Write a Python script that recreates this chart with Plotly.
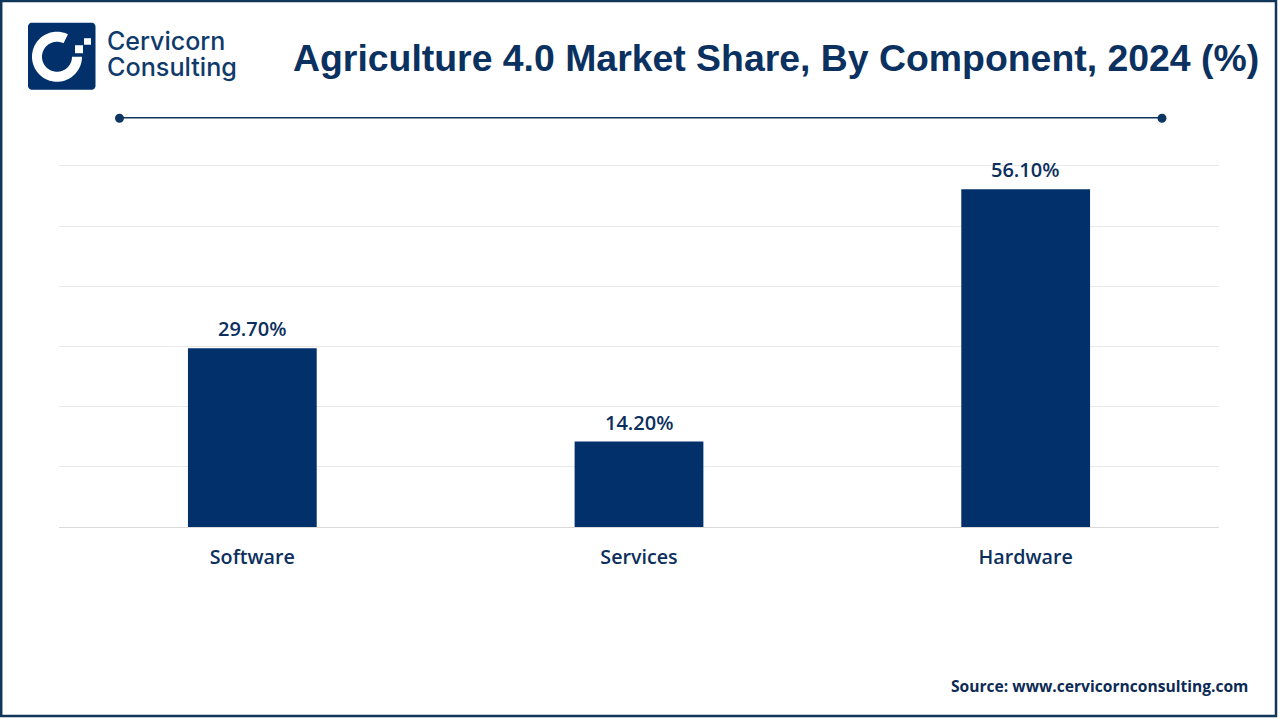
import numpy as np
import plotly.graph_objects as go

# data
categories = ["Software", "Services", "Hardware"]
shares = [29.7, 14.2, 56.1]
grid_ticks = [0, 10, 20, 30, 40, 50, 60]

NAVY = "#01306B"
TEXT = "#0C2F5E"
W, H = 1280, 720
# top runs a little past the 60 line, plotly drops a grid line sitting right on the edge
LEFT, RIGHT, TOP, BOTTOM = 59, 1219, 164.2, 527
Y_MAX = 60.3


# paper coordinates run over the plot area, not the page
def px(x):
    return (x - LEFT) / (RIGHT - LEFT)


def py(y):
    return (BOTTOM - y) / (BOTTOM - TOP)


def poly(points):
    return "M" + " L".join(f"{px(x):.5f},{py(y):.5f}" for x, y in points) + " Z"


def ring_c(cx, cy, r_out, r_in, start, end):
    # C of the logo, angles in degrees counter clockwise from east
    a = np.radians(np.linspace(start, end, 70))
    outer = [(cx + r_out * np.cos(t), cy - r_out * np.sin(t)) for t in a]
    inner = [(cx + r_in * np.cos(t), cy - r_in * np.sin(t)) for t in a[::-1]]
    return poly(outer + inner)


def rounded(x0, y0, x1, y1, r):
    a = np.radians(np.linspace(0, 90, 8))
    pts = []
    for (cx, cy, off) in [(x1 - r, y0 + r, 0), (x0 + r, y0 + r, 90), (x0 + r, y1 - r, 180), (x1 - r, y1 - r, 270)]:
        pts += [(cx + r * np.cos(t + np.radians(off)), cy - r * np.sin(t + np.radians(off))) for t in a]
    return poly(pts)


fig = go.Figure()

fig.add_trace(go.Bar(
    x=categories,
    y=shares,
    width=0.333,
    marker=dict(color=NAVY, line=dict(width=0)),
))

shapes = [
    # outer frame
    dict(type="rect", xref="paper", yref="paper", x0=px(1.2), x1=px(1276), y0=py(1.2), y1=py(716),
         line=dict(color="#10365A", width=2.5), fillcolor="rgba(0,0,0,0)", layer="above"),
    # rule under the title
    dict(type="line", xref="paper", yref="paper", x0=px(119), x1=px(1162), y0=py(118), y1=py(118),
         line=dict(color="#0F3563", width=1.4)),
    dict(type="circle", xref="paper", yref="paper", x0=px(115), x1=px(124), y0=py(114), y1=py(123),
         fillcolor="#0F3563", line=dict(width=0)),
    dict(type="circle", xref="paper", yref="paper", x0=px(1157.5), x1=px(1166.5), y0=py(114), y1=py(123),
         fillcolor="#0F3563", line=dict(width=0)),
    # logo
    dict(type="path", xref="paper", yref="paper", path=rounded(28, 23, 95.5, 90, 4),
         fillcolor=NAVY, line=dict(width=0)),
    dict(type="path", xref="paper", yref="paper", path=ring_c(57, 57, 25, 15, 64, 360),
         fillcolor="white", line=dict(width=0)),
    dict(type="rect", xref="paper", yref="paper", x0=px(75), x1=px(83), y0=py(45.5), y1=py(53.5),
         fillcolor="white", line=dict(width=0)),
    dict(type="rect", xref="paper", yref="paper", x0=px(84), x1=px(91), y0=py(38.5), y1=py(45),
         fillcolor="white", line=dict(width=0)),
]

annotations = [
    dict(text="<b>Agriculture 4.0 Market Share, By Component, 2024 (%)</b>", x=px(291), y=py(58),
         xanchor="left", yanchor="middle", font=dict(family="Liberation Sans", size=37.4, color="#0B3160")),
    dict(text="Cervicorn", x=px(104.5), y=py(41.5), xanchor="left", yanchor="middle",
         font=dict(family="Inter", size=25, color="#0F3A6B", weight=500)),
    dict(text="Consulting", x=px(104.5), y=py(67), xanchor="left", yanchor="middle",
         font=dict(family="Inter", size=25.2, color="#0F3A6B", weight=500)),
    dict(text="<b>Source: www.cervicornconsulting.com</b>", x=px(1250), y=py(686),
         xanchor="right", yanchor="middle", font=dict(family="Open Sans", size=15.6, color="#0C2A55")),
]
for a in annotations:
    a.update(xref="paper", yref="paper", showarrow=False)

# value labels sit on the bars
for cat, val in zip(categories, shares):
    annotations.append(dict(
        x=cat, y=val, xref="x", yref="y", text=f"{val:.2f}%", showarrow=False,
        yanchor="bottom", yshift=4,
        font=dict(family="Open Sans", size=20, color=TEXT, weight=600),
    ))

fig.update_layout(
    width=W,
    height=H,
    margin=dict(l=LEFT, r=W - RIGHT, t=TOP, b=H - BOTTOM, autoexpand=False),
    paper_bgcolor="white",
    plot_bgcolor="white",
    showlegend=False,
    shapes=shapes,
    annotations=annotations,
    xaxis=dict(
        type="category",
        showgrid=False,
        showline=False,
        ticks="",
        ticklabelstandoff=16,
        tickfont=dict(family="Open Sans", size=19.7, color=TEXT, weight=600),
    ),
    yaxis=dict(
        range=[0, Y_MAX],
        tickvals=grid_ticks,
        showticklabels=False,
        gridcolor="#E9E9E9",
        gridwidth=1,
        zeroline=True,
        zerolinecolor="#D9D9D9",
        zerolinewidth=1,
        showline=False,
        ticks="",
    ),
)

fig.write_html("out.html", config=dict(displayModeBar=False), post_script="document.body.style.margin='0';")
